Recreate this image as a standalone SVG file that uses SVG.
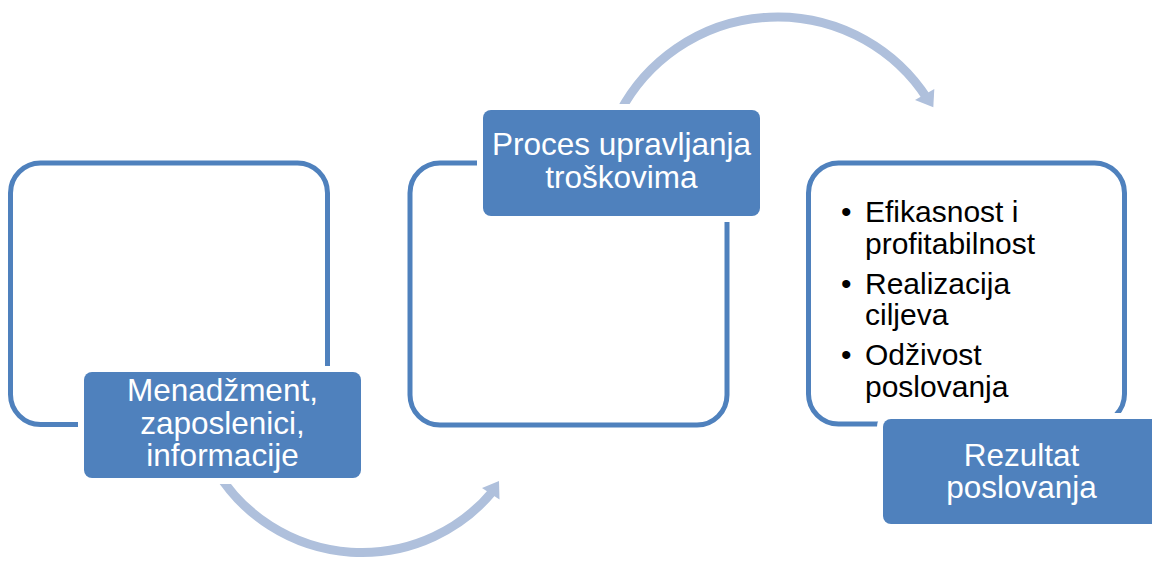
<svg xmlns="http://www.w3.org/2000/svg" width="1152" height="563" viewBox="0 0 1152 563">
  <style>
    .frame { fill: #FFFFFF; stroke: #4F81BD; stroke-width: 5; }
    .label { fill: #4F81BD; stroke: #FFFFFF; stroke-width: 12; paint-order: stroke; }
    .lt { font-family: "Liberation Sans", Arial, sans-serif; font-size: 31.5px; fill: #FFFFFF; text-anchor: middle; }
    .bt { font-family: "Liberation Sans", Arial, sans-serif; font-size: 30px; fill: #000000; }
    .arc { fill: none; stroke: #AFC0DC; stroke-width: 9; }
    .head { fill: #AFC0DC; }
  </style>
  <rect width="1152" height="563" fill="#FFFFFF"/>

  <g id="frames">
    <rect id="frame1" class="frame" x="10.5" y="163" width="317" height="261.5" rx="30"/>
    <rect id="frame2" class="frame" x="410" y="163" width="317" height="262" rx="30"/>
    <rect id="frame3" class="frame" x="808.5" y="163" width="316" height="261" rx="30"/>
  </g>

  <g id="connectors">
    <path class="arc" d="M 217.3 472.3 A 170.5 170.5 0 0 0 493.5 490.5"/>
    <polygon class="head" points="499,481 499.5,499.5 482,488"/>
    <path class="arc" d="M 619.9 112 A 178.2 178.2 0 0 1 927 98.2"/>
    <polygon class="head" points="933.3,107.3 934.3,89 915,100"/>
  </g>

  <g id="node1">
    <rect class="label" x="84" y="372" width="277" height="106" rx="8"/>
    <text class="lt" x="222.5" y="401">Menadžment,</text>
    <text class="lt" x="222.5" y="434">zaposlenici,</text>
    <text class="lt" x="222.5" y="466">informacije</text>
  </g>

  <g id="node2">
    <rect class="label" x="483" y="110" width="277" height="106" rx="8"/>
    <text class="lt" x="621.5" y="155">Proces upravljanja</text>
    <text class="lt" x="621.5" y="188">troškovima</text>
  </g>

  <g id="node3">
    <text class="bt" x="841" y="222">•</text>
    <text class="bt" x="865" y="222">Efikasnost i</text>
    <text class="bt" x="865" y="253.5">profitabilnost</text>
    <text class="bt" x="841" y="293.5">•</text>
    <text class="bt" x="865" y="293.5">Realizacija</text>
    <text class="bt" x="865" y="325">ciljeva</text>
    <text class="bt" x="841" y="364.5">•</text>
    <text class="bt" x="865" y="364.5">Odživost</text>
    <text class="bt" x="865" y="396.5">poslovanja</text>
    <rect class="label" x="883" y="419" width="277" height="105" rx="8"/>
    <text class="lt" x="1021.5" y="466">Rezultat</text>
    <text class="lt" x="1021.5" y="498">poslovanja</text>
  </g>
</svg>
